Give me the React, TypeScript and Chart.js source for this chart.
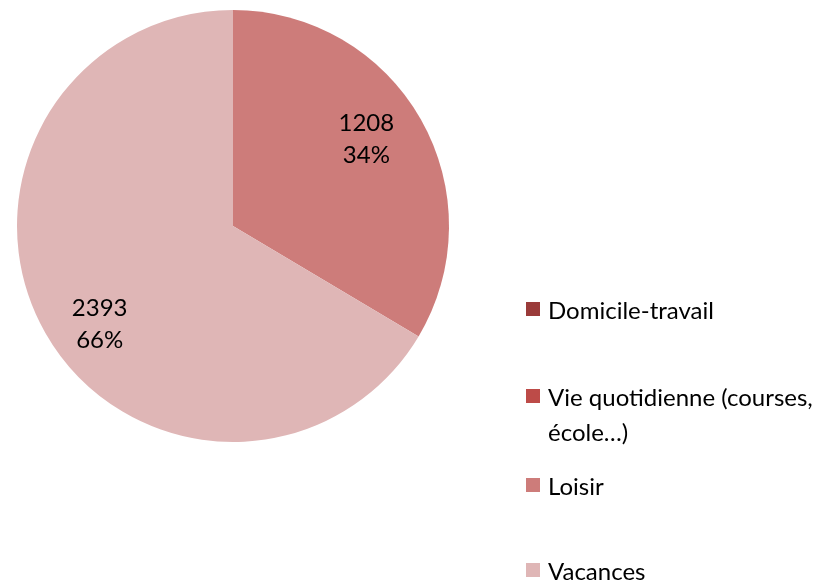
import React, { useEffect, useRef } from "react";
import { Chart, registerables } from "chart.js";

Chart.register(...registerables);

const categories = ["Domicile-travail", "Vie quotidienne (courses, école…)", "Loisir", "Vacances"];
const legendLines = [["Domicile-travail"], ["Vie quotidienne (courses,", "école…)"], ["Loisir"], ["Vacances"]];
const values = [0, 0, 1208, 2393];
const colors = ["#9A3B3A", "#BD4B48", "#CD7C7A", "#DFB6B6"];

const FONT = "Lato, 'DejaVu Sans', sans-serif";

export default function App() {
  const ref = useRef<HTMLCanvasElement | null>(null);
  useEffect(() => {
    document.body.style.margin = "0";
    const total = values.reduce((a, b) => a + b, 0);
    const labelShift = [0, 0, -11, 22];
    const labelPlugin = {
      id: "pieLabels",
      afterDatasetsDraw(chart: any) {
        const ctx = chart.ctx;
        const meta = chart.getDatasetMeta(0);
        ctx.save();
        ctx.fillStyle = "#000";
        ctx.font = `24px ${FONT}`;
        ctx.textAlign = "center";
        ctx.textBaseline = "middle";
        meta.data.forEach((arc: any, i: number) => {
          const v = values[i];
          if (!v) return;
          const p = arc.getProps(["x", "y", "startAngle", "endAngle", "outerRadius"], true);
          const mid = (p.startAngle + p.endAngle) / 2;
          const d = p.outerRadius * 0.71;
          const cx = p.x + Math.cos(mid) * d;
          const cy = p.y + Math.sin(mid) * d + labelShift[i];
          ctx.fillText(String(v), cx, cy - 16);
          ctx.fillText(Math.round((v / total) * 100) + "%", cx, cy + 16);
        });
        // legend
        const rowY = [309, 396, 485, 570];
        ctx.textAlign = "left";
        categories.forEach((_, i) => {
          ctx.fillStyle = colors[i];
          ctx.fillRect(526, rowY[i] - 7, 14, 14);
          ctx.fillStyle = "#000";
          legendLines[i].forEach((line, j) => {
            ctx.fillText(line, 548, rowY[i] + 2 + j * 35);
          });
        });
        ctx.restore();
      },
    };
    const chart = new Chart(ref.current!, {
      type: "pie",
      data: {
        labels: categories,
        datasets: [{ data: values, backgroundColor: colors, borderWidth: 0 }],
      },
      options: {
        animation: false,
        responsive: false,
        layout: { padding: { left: 17, top: 10, right: 376, bottom: 140 } },
        plugins: { legend: { display: false }, tooltip: { enabled: false } },
      },
      plugins: [labelPlugin],
    });
    return () => chart.destroy();
  }, []);
  return (
    <div style={{ position: "relative", width: 825, height: 582, background: "#fff" }}>
      <canvas ref={ref} width={825} height={582} style={{ display: "block" }} />
    </div>
  );
}
